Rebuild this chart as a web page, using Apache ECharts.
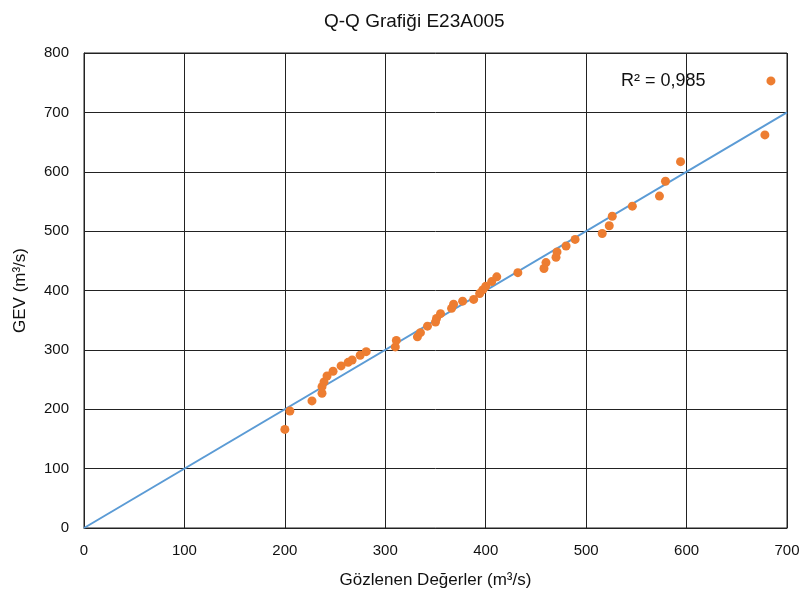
<!DOCTYPE html>
<html>
<head>
<meta charset="utf-8">
<script src="https://cdn.jsdelivr.net/npm/echarts@6/dist/echarts.min.js"></script>
<style>html,body{margin:0;padding:0;background:#fff}#c{width:803px;height:604px}</style>
</head>
<body>
<div id="c"></div>
<script>
var observed = [200,205,227,237,237,239,242,248,256,263,267,275,281,310,311,332,335,342,350,351,355,366,368,377,388,394,397,400,406,411,432,458,460,470,471,480,489,516,523,526,546,573,579,594,678,684];
var gev =      [166,197,214,227,238,246,256,264,273,279,283,291,297,305,316,322,329,340,347,353,361,370,377,382,385,395,401,407,415,423,430,437,447,456,465,475,486,496,509,525,542,559,584,617,662,753];
var refLine = [[0,0],[700,700]];
var xTicks = [0,100,200,300,400,500,600,700];
var yTicks = [0,100,200,300,400,500,600,700,800];
var titleText = 'Q-Q Grafiği E23A005';
var xName = 'Gözlenen Değerler (m³/s)';
var yName = 'GEV (m³/s)';
var r2Text = 'R² = 0,985';

var pts = observed.map(function(v,i){return [v, gev[i]];});
var font = 'Liberation Sans, Arial, sans-serif';
var chart = echarts.init(document.getElementById('c'));
chart.setOption({
  animation:false,
  backgroundColor:'#fff',
  title:{text:titleText,left:319,top:7,textStyle:{fontFamily:font,fontSize:19,fontWeight:'normal',color:'#111'}},
  grid:{left:84,right:16,top:53,bottom:76,show:true,borderColor:'#222',borderWidth:1},
  xAxis:{type:'value',min:0,max:700,interval:100,name:xName,nameLocation:'middle',nameGap:44,
    nameTextStyle:{fontFamily:font,fontSize:17,color:'#111'},
    axisLine:{show:true,lineStyle:{color:'#222'}},axisTick:{show:false},
    axisLabel:{fontFamily:font,fontSize:15,color:'#111',margin:15},
    splitLine:{show:true,lineStyle:{color:'#222',width:1}}},
  yAxis:{type:'value',min:0,max:800,interval:100,name:yName,nameLocation:'middle',nameGap:55,
    nameTextStyle:{fontFamily:font,fontSize:17,color:'#111'},
    axisLine:{show:true,lineStyle:{color:'#222'}},axisTick:{show:false},
    axisLabel:{fontFamily:font,fontSize:15,color:'#111',margin:15},
    splitLine:{show:true,lineStyle:{color:'#222',width:1}}},
  series:[
    {type:'line',data:refLine,symbol:'none',lineStyle:{color:'#5B9BD5',width:2},z:2},
    {type:'scatter',data:pts,symbol:'circle',symbolSize:9,itemStyle:{color:'#ED7D31',opacity:1},z:3}
  ],
  graphic:[{type:'text',left:621,top:72,style:{text:r2Text,fontFamily:font,fontSize:18,fill:'#111'}}]
});
</script>
</body>
</html>
